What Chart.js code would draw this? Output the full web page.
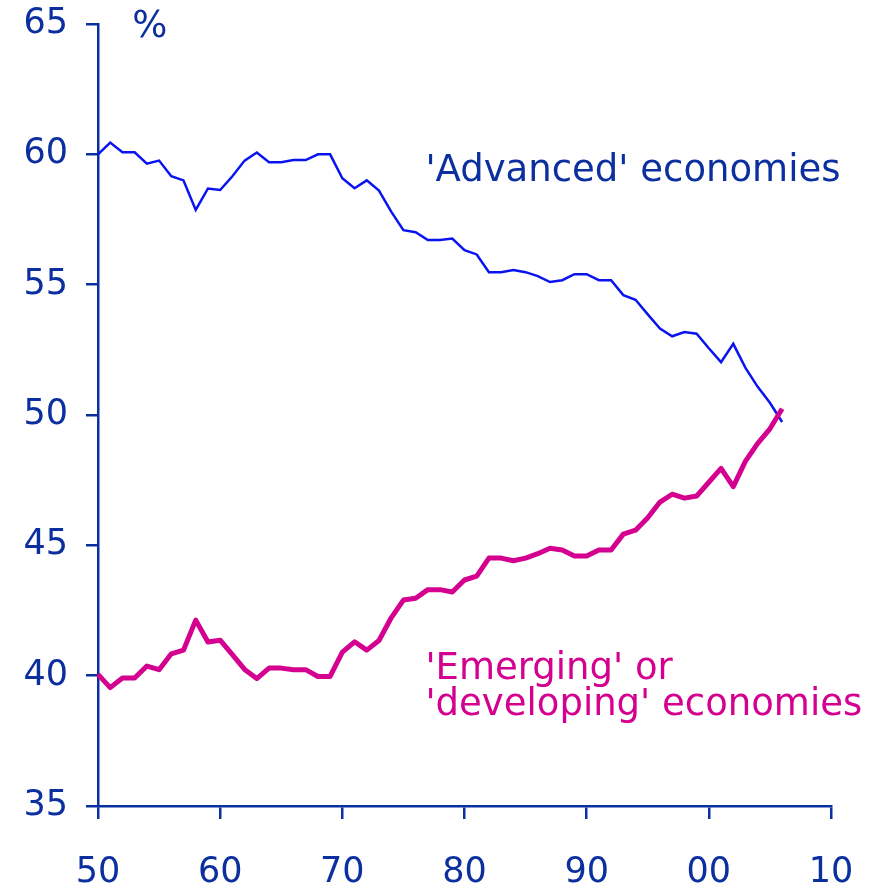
<!DOCTYPE html>
<html>
<head>
<meta charset="utf-8">
<script src="https://cdn.jsdelivr.net/npm/chart.js@4/dist/chart.umd.min.js"></script>
<style>
  body { margin: 0; background: #fff; }
</style>
</head>
<body>
<canvas id="chart" width="888" height="890"></canvas>
<script>
const years = [
  1950, 1951, 1952, 1953, 1954, 1955, 1956, 1957, 1958, 1959,
  1960, 1961, 1962, 1963, 1964, 1965, 1966, 1967, 1968, 1969,
  1970, 1971, 1972, 1973, 1974, 1975, 1976, 1977, 1978, 1979,
  1980, 1981, 1982, 1983, 1984, 1985, 1986, 1987, 1988, 1989,
  1990, 1991, 1992, 1993, 1994, 1995, 1996, 1997, 1998, 1999,
  2000, 2001, 2002, 2003, 2004, 2005, 2006
];

const advanced = [
  60.0, 60.45, 60.08, 60.08, 59.64, 59.76, 59.16, 59.0, 57.87, 58.69,
  58.63, 59.16, 59.76, 60.07, 59.7, 59.7, 59.78, 59.78, 60.0, 60.0,
  59.08, 58.7, 59.0, 58.61, 57.8, 57.09, 57.01, 56.71, 56.71, 56.77,
  56.32, 56.16, 55.48, 55.48, 55.56, 55.48, 55.33, 55.1, 55.17, 55.4,
  55.4, 55.17, 55.17, 54.6, 54.42, 53.86, 53.32, 53.02, 53.18, 53.12,
  52.56, 52.03, 52.73, 51.81, 51.08, 50.47, 49.73
];

const emerging = [
  40.05, 39.54, 39.91, 39.91, 40.37, 40.23, 40.84, 40.98, 42.13, 41.29,
  41.36, 40.81, 40.24, 39.89, 40.29, 40.29, 40.23, 40.23, 39.97, 39.97,
  40.9, 41.3, 40.98, 41.35, 42.22, 42.9, 42.97, 43.3, 43.3, 43.21,
  43.67, 43.82, 44.51, 44.51, 44.41, 44.51, 44.68, 44.89, 44.82, 44.59,
  44.59, 44.82, 44.82, 45.43, 45.58, 46.06, 46.66, 46.96, 46.81, 46.89,
  47.42, 47.95, 47.25, 48.23, 48.91, 49.47, 50.24
];

const xTicks = [1950, 1960, 1970, 1980, 1990, 2000, 2010];
const yTicks = [35, 40, 45, 50, 55, 60, 65];

const axisColor = "#0b2f9f";
const blue = "#0a14f0";
const magenta = "#d4008f";
const fontFamily = "'DejaVu Sans', Verdana, sans-serif";

// text labels placed in data units
const notes = [
  { text: "%", x: 1952.8, y: 64.52, color: axisColor },
  { text: "'Advanced' economies", x: 1976.8, y: 58.97, color: axisColor },
  { text: "'Emerging' or", x: 1976.8, y: 39.88, color: magenta },
  { text: "'developing' economies", x: 1976.8, y: 38.51, color: magenta }
];

const notesPlugin = {
  id: "notes",
  afterDraw(chart) {
    const { ctx, scales } = chart;
    ctx.save();
    ctx.font = "37px " + fontFamily;
    ctx.textAlign = "left";
    ctx.textBaseline = "alphabetic";
    notes.forEach((n) => {
      ctx.fillStyle = n.color;
      ctx.fillText(n.text, scales.x.getPixelForValue(n.x), scales.y.getPixelForValue(n.y));
    });
    ctx.restore();
  }
};

const ctx = document.getElementById("chart").getContext("2d");
new Chart(ctx, {
  type: "line",
  data: {
    datasets: [
      {
        label: "'Emerging' or 'developing' economies",
        data: years.map((y, i) => ({ x: y, y: emerging[i] })),
        borderColor: magenta,
        borderWidth: 5,
        borderJoinStyle: "round",
        pointRadius: 0,
        tension: 0,
        clip: false,
        order: 0
      },
      {
        label: "'Advanced' economies",
        data: years.map((y, i) => ({ x: y, y: advanced[i] })),
        borderColor: blue,
        borderWidth: 2.5,
        pointRadius: 0,
        tension: 0,
        clip: false,
        order: 1
      }
    ]
  },
  options: {
    responsive: false,
    devicePixelRatio: 1,
    animation: false,
    layout: { padding: { top: 24, right: 57, bottom: 0, left: 0 } },
    plugins: {
      legend: { display: false },
      tooltip: { enabled: false }
    },
    scales: {
      x: {
        type: "linear",
        min: 1950,
        max: 2010,
        afterFit: (s) => {
          s.height = 84;
          s.paddingLeft = 0;
          s.paddingRight = 0;
        },
        afterBuildTicks: (s) => { s.ticks = xTicks.map((v) => ({ value: v })); },
        grid: {
          drawOnChartArea: false,
          drawTicks: true,
          tickLength: 13,
          color: axisColor,
          lineWidth: 2.5
        },
        border: { display: true, color: axisColor, width: 2.5 },
        ticks: {
          autoSkip: false,
          maxRotation: 0,
          padding: 33,
          color: axisColor,
          font: { family: fontFamily, size: 35 },
          callback: (v) => String(v % 100).padStart(2, "0")
        }
      },
      y: {
        min: 35,
        max: 65,
        afterFit: (s) => {
          s.width = 98;
          s.paddingTop = 0;
          s.paddingBottom = 0;
        },
        afterBuildTicks: (s) => { s.ticks = yTicks.map((v) => ({ value: v })); },
        grid: {
          drawOnChartArea: false,
          drawTicks: true,
          tickLength: 12,
          color: axisColor,
          lineWidth: 2.5
        },
        border: { display: true, color: axisColor, width: 2.5 },
        ticks: {
          padding: 18,
          color: axisColor,
          font: { family: fontFamily, size: 35 }
        }
      }
    }
  },
  plugins: [notesPlugin]
});
</script>
</body>
</html>
